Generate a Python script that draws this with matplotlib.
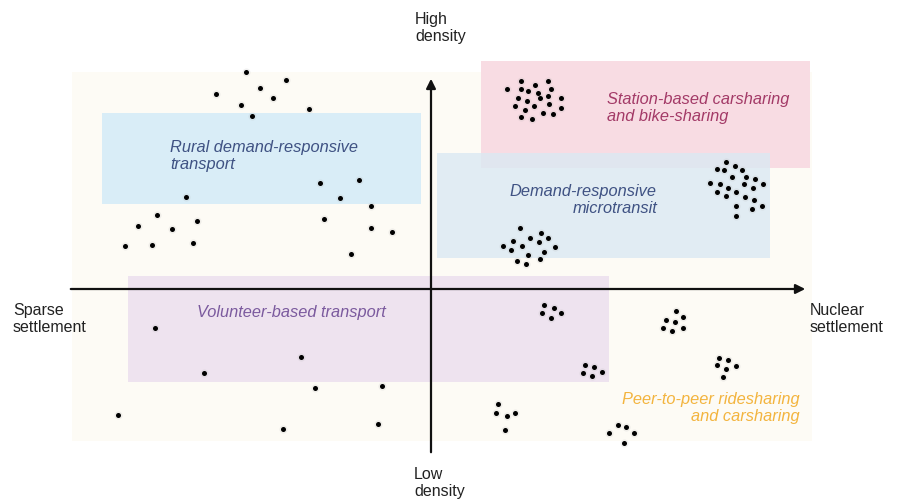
import matplotlib
matplotlib.use("Agg")
from matplotlib import pyplot as plt
from matplotlib.patches import Rectangle

plt.rcParams['font.family'] = ['Liberation Sans', 'DejaVu Sans']

# dot positions (in image pixels)
dots_x = [245.7, 286.3, 260, 272.7, 216, 240.7, 252.3, 309,
          185.7, 157.3, 138, 171.7, 197.3, 124.7, 152.3, 192.7,
          319.7, 359.3, 340.3, 371.3, 323.7, 370.7, 391.7, 351,
          155, 203.7, 301, 315, 381.7, 118, 283.3, 378.3,
          544.3, 554, 542.3, 551.3, 561.3,
          675.7, 666, 675, 683, 663.3, 672.3, 683,
          585, 594, 582.7, 592, 601.7,
          719.3, 728.3, 717.3, 726, 736, 722.7,
          497.7, 495.7, 507, 514.7, 504.7,
          617.7, 626.3, 608.7, 634.3, 624,
          507.3, 521.3, 535, 548, 521.3, 527.7, 538.3, 551.3, 518.3, 526.7, 540,
          547.7, 560.7, 515.3, 534.3, 548.7, 561.3, 524.7, 543.3, 553.3, 521, 532.3,
          725.7, 734.7, 716.7, 724, 742.3, 732.3, 745.7, 755, 709.7, 719.7, 728.3,
          743.7, 753, 763, 717.3, 725.7, 736, 745, 753.7, 736.3, 751.7, 762, 736,
          520, 541, 513, 529.7, 538.7, 548.3, 502.7, 511, 521.7, 555, 527.7,
          543.7, 516.7, 540, 525.7]
dots_y = [72.7, 80.7, 89.3, 98.7, 95, 106, 117, 110,
          197.7, 215.7, 226.7, 230, 221.7, 246.7, 246, 244,
          184, 181, 199.3, 207, 220.3, 229.3, 233.3, 255.3,
          328.7, 374.3, 358, 389.3, 386.7, 415.7, 429.7, 425.3,
          306, 309, 314, 318.7, 314,
          312, 320.7, 323.3, 318.3, 328.7, 332.3, 329,
          365.7, 367.7, 373.7, 377, 373.3,
          358.7, 361, 366.3, 370, 366.7, 378.3,
          405, 414, 417.3, 414, 430.7,
          425.7, 428.3, 434, 434, 443.7,
          90.3, 82.3, 86.3, 82.3, 90.3, 92.3, 94.3, 90.3, 99.3, 101.7, 99,
          97, 99, 107, 107.3, 105, 108.7, 111, 114.3, 115.3, 118.3, 120,
          163, 166.7, 170.3, 171.3, 171.3, 178, 178, 179.7, 184, 185.3, 188.7,
          185, 188.7, 185, 193, 196.7, 193.3, 198.3, 200.7, 207.3, 209.7, 207, 217,
          229.3, 233.7, 242.3, 239, 243, 239, 246.7, 251.3, 247.3, 248, 256.3,
          253.3, 261.7, 260, 264.7]

# mobility zones: (x0, y0, x1, y1)
zones = ["Rural", "Station", "Microtransit", "Volunteer"]
zone_boxes = [(102, 114, 421, 205), (481, 62, 810, 169),
              (437, 154, 770, 259), (128, 277, 609, 383)]
zone_colors = ['#d9edf7', '#f8dce3', '#dbe9f3', '#eee3ef']
zone_alpha = [1.0, 1.0, 0.8, 1.0]

fig = plt.figure(figsize=(9.03, 5.02), dpi=100)
ax = fig.add_axes([0, 0, 1, 1])
ax.set_xlim(0, 903)
ax.set_ylim(502, 0)
ax.axis('off')

# faint cream backdrop
ax.add_patch(Rectangle((72, 73), 740, 369, facecolor='#fdfbf5', edgecolor='none', zorder=0))

for (x0, y0, x1, y1), c, a in zip(zone_boxes, zone_colors, zone_alpha):
    ax.add_patch(Rectangle((x0, y0), x1 - x0, y1 - y0, facecolor=c, edgecolor='none',
                           alpha=a, zorder=1))

# axes arrows
ax.annotate('', xy=(808, 290), xytext=(68, 290),
            arrowprops=dict(arrowstyle='-|>', color='#111111', lw=1.6, mutation_scale=14), zorder=3)
ax.annotate('', xy=(431, 77), xytext=(431, 456),
            arrowprops=dict(arrowstyle='-|>', color='#111111', lw=1.6, mutation_scale=14), zorder=3)

# dots with a soft shadow
ax.scatter(dots_x, dots_y, s=34, color='#b0b0b0', alpha=0.18, linewidths=0, zorder=4)
ax.scatter(dots_x, dots_y, s=13, color='black', linewidths=0, zorder=5)

lab = dict(fontsize=11.5, color='#222222', va='top', linespacing=1.15)
ax.text(13, 303, "Sparse\nsettlement", ha='left', **lab)
ax.text(810, 303, "Nuclear\nsettlement", ha='left', **lab)
ax.text(415, 12, "High\ndensity", ha='left', **lab)
ax.text(414, 467, "Low\ndensity", ha='left', **lab)

cat = dict(fontsize=11.8, style='italic', va='top', linespacing=1.2, zorder=6)
ax.text(170, 140, "Rural demand-responsive\ntransport", ha='left', color='#3f5283', **cat)
ax.text(607, 92, "Station-based carsharing\nand bike-sharing", ha='left', color='#a33a67', **cat)
ax.text(657, 184, "Demand-responsive\nmicrotransit", ha='right', multialignment='right',
        color='#3f5283', **cat)
ax.text(197, 305, "Volunteer-based transport", ha='left', color='#7b5a9e', **cat)
ax.text(800, 392, "Peer-to-peer ridesharing\nand carsharing", ha='right', multialignment='right',
        color='#f3b43e', **cat)

fig.savefig('out.png', dpi=100, facecolor='white')
